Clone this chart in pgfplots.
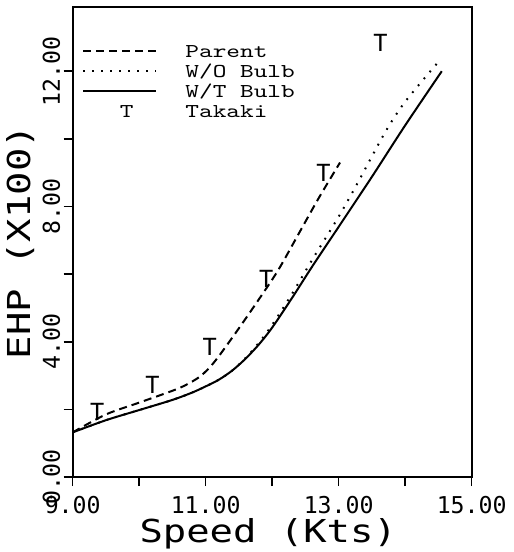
\documentclass[border=0pt]{standalone}
\usepackage{fontspec}
\usepackage{graphicx}
\usepackage{pgfplots}
\pgfplotsset{compat=1.18}
\newfontfamily\dvm{DejaVu Sans Mono}
\newcommand\tickfont{\dvm\fontsize{11.6}{12}\selectfont}
\newcommand\labfont{\dvm\fontsize{15.8}{17}\selectfont}
\newcommand\legfont{\ttfamily\fontsize{9.8}{10}\selectfont}
\newcommand\lgx[1]{\scalebox{1.33}[1]{#1}}
\newcommand\tfont{\dvm\fontsize{11.8}{12}\selectfont}
\begin{document}
\begin{tikzpicture}
\useasboundingbox (-36.35pt,-37.5pt) rectangle ++(257pt,276pt);
\begin{axis}[
  scale only axis, width=199.5pt, height=235pt,
  xmin=9, xmax=15, ymin=0, ymax=13.9,
  xtick={9,11,13,15}, xticklabels={9.00,11.00,13.00,15.00},
  minor xtick={10,12,14},
  ytick={0,4,8,12}, yticklabels={0.00,4.00,8.00,12.00},
  minor ytick={2,6,10},
  tick align=outside, tick pos=left,
  major tick length=4.5pt, minor tick length=4.5pt,
  every tick/.style={black, line width=0.8pt},
  axis line style={line width=1pt},
  xticklabel style={font=\tickfont, anchor=base, yshift=-13.5pt},
  yticklabel style={font=\tickfont, xshift=-1.85pt, rotate=90, anchor=base},
  xlabel={\scalebox{1.23}[1]{Speed (Kts)}},
  ylabel={\scalebox{1.23}[1]{EHP (X100)}},
  xlabel style={font=\labfont, at={(axis description cs:0.49,-0.1404)}, anchor=base},
  ylabel style={font=\labfont, at={(axis description cs:-0.105,0.5)}, anchor=base},
  legend image code/.code={\draw[#1] (0pt,0pt) -- (36.5pt,0pt);},
  legend cell align=left,
  legend style={at={(axis description cs:0,1)}, anchor=north west,
    xshift=4.65pt, yshift=-17.5pt, draw=none, fill=none, inner sep=0pt,
    font=\legfont, row sep=1pt, column sep=14pt,
    nodes={inner sep=0pt, text height=7.5pt, text depth=1.5pt}},
]
\addplot[black, line width=1pt, dash pattern=on 4pt off 2.5pt, smooth] coordinates {
(9,1.32)(9.5,1.85)(10,2.2)(10.5,2.55)(10.7,2.72)(10.9,2.95)(11.05,3.22)(11.2,3.58)(11.5,4.4)(11.85,5.4)(12.1,6.15)(12.4,7.2)(12.7,8.25)(13.02,9.3)};
\addlegendentry{\lgx{Parent}}
\addplot[black, line width=1pt, dash pattern=on 0.9pt off 3.6pt, smooth] coordinates {
(9,1.32)(9.5,1.68)(10,1.98)(10.5,2.28)(10.8,2.5)(11,2.68)(11.2,2.88)(11.4,3.15)(11.6,3.52)(11.8,3.97)(12.0,4.5)(12.3,5.42)(12.6,6.42)(13.0,7.7)(13.3,8.75)(13.7,10.2)(14.0,11.1)(14.5,12.28)};
\addlegendentry{\lgx{W/O Bulb}}
\addplot[black, line width=1pt, smooth] coordinates {
(9,1.32)(9.5,1.68)(10,1.98)(10.5,2.28)(10.8,2.5)(11,2.68)(11.2,2.88)(11.4,3.15)(11.6,3.5)(11.8,3.92)(12.0,4.42)(12.3,5.3)(12.6,6.22)(13.0,7.4)(13.5,8.88)(14.0,10.4)(14.55,12.0)};
\addlegendentry{\lgx{W/T Bulb}}
\addplot[black, only marks, mark=text, text mark={\tfont T},
  legend image code/.code={\node[font=\legfont, inner sep=0pt, text height=7.5pt, text depth=1.5pt] at (18pt,0pt) {\lgx{T}};}]
  coordinates {(9.37,1.93)(10.20,2.71)(11.06,3.86)(11.91,5.86)(12.77,8.98)(13.63,12.84)};
\addlegendentry{\lgx{Takaki}}
\end{axis}
\end{tikzpicture}
\end{document}
